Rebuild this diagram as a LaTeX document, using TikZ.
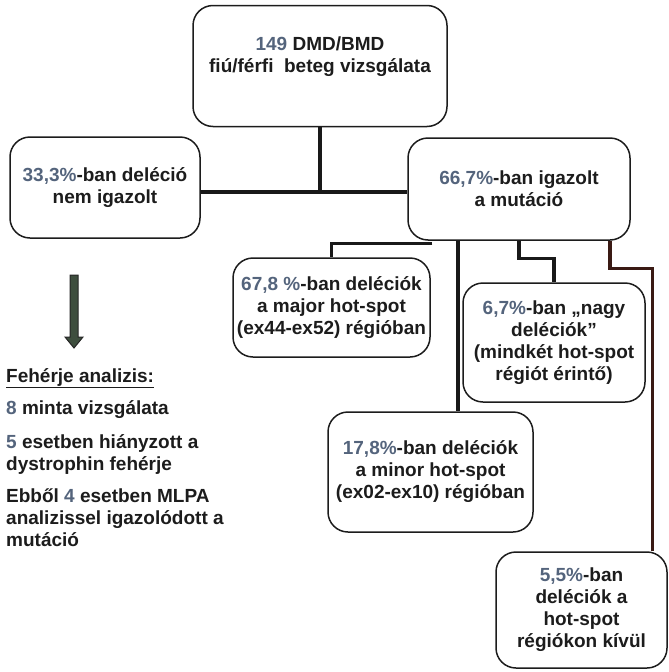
\documentclass[tikz,border=0pt]{standalone}
\usepackage{fontspec}
\setmainfont{Liberation Sans}
\usetikzlibrary{positioning, calc}

\definecolor{numblue}{RGB}{84,100,124}
\definecolor{txtdark}{RGB}{28,28,28}
\definecolor{arrfill}{RGB}{62,78,62}
\definecolor{linebrown}{RGB}{58,26,20}
\newcommand{\pct}[1]{\textcolor{numblue}{#1}}

\begin{document}
\begin{tikzpicture}[x=1pt, y=-1pt,
        box/.style={draw=txtdark, line width=1.5pt, rounded corners=20pt, align=center,
            text=txtdark, inner sep=2pt, font=\fontsize{19}{22}\selectfont\bfseries},
        lbl/.style={align=center, text=txtdark, inner sep=0pt, font=\fontsize{19}{22}\selectfont\bfseries},
        conn/.style={line width=3.2pt, draw=black!90}]
        % page size
        \useasboundingbox (0,0) rectangle (669,672);

        % the boxes
        \node[box, minimum width=254pt, minimum height=121pt] (top) at (320,66) {};
        \node[lbl] (toptext) at ([yshift=9pt]top.center) {\pct{149} DMD/BMD\\fiú/férfi\ \ beteg vizsgálata};

        \node[box, minimum width=190pt, minimum height=101pt] (left) at (105,187.5)
            {\pct{33,3\%}-ban deléció\\nem igazolt};
        \node[box, minimum width=222pt, minimum height=102pt] (mut) at (519,189)
            {\pct{66,7\%}-ban igazolt\\a mutáció};

        \node[box, minimum width=197pt, minimum height=99pt] (major) at (331.5,307.5)
            {\pct{67,8 \%}-ban deléciók\\a major hot-spot\\(ex44-ex52) régióban};
        \node[box, minimum width=182pt, minimum height=119pt] (nagy) at (554,342.5)
            {\pct{6,7\%}-ban „nagy\\deléciók”\\(mindkét hot-spot\\régiót érintő)};
        \node[box, minimum width=205pt, minimum height=120pt] (minor) at (430.5,472)
            {\pct{17,8\%}-ban deléciók\\a minor hot-spot\\(ex02-ex10) régióban};
        \node[box, minimum width=171pt, minimum height=116pt] (out) at (581.5,610)
            {\pct{5,5\%}-ban\\deléciók a\\hot-spot\\régiókon kívül};

        % protein analysis
        \node[lbl, align=left, anchor=north west] (feh) at (6,368)
            {\underline{Fehérje analizis:}\\[10pt]
             \pct{8} minta vizsgálata\\[12pt]
             \pct{5} esetben hiányzott a\\
             dystrophin fehérje\\[10pt]
             Ebből \pct{4} esetben MLPA\\
             analizissel igazolódott a\\
             mutáció};

        % the big arrow
        \coordinate (arrtop) at (74,275);
        \draw[fill=arrfill, line width=1pt, draw=black!85] (arrtop) ++(-4,0) -- ++(8,0) -- ++(0,62)
            -- ++(5,0) -- ++(-9,11) -- ++(-9,-11) -- ++(5,0) -- cycle;

        % the connectors
        \coordinate (j1) at (320,192);
        \draw[conn] (top.south) -- (j1);
        \draw[conn] (left.east |- j1) -- (mut.west |- j1);

        \draw[conn] ([xshift=25pt, yshift=-3pt]mut.south west) -| (major.north);
        \draw[conn] ([xshift=27.5pt]minor.north |- mut.south) -- ([xshift=27.5pt]minor.north);
        \draw[conn] (mut.south) -- ++(0,18) -| (nagy.north);
        \draw[conn, draw=linebrown] ([xshift=91pt]mut.south) -- ++(0,28) -| ([xshift=71pt]out.north);
\end{tikzpicture}
\end{document}
